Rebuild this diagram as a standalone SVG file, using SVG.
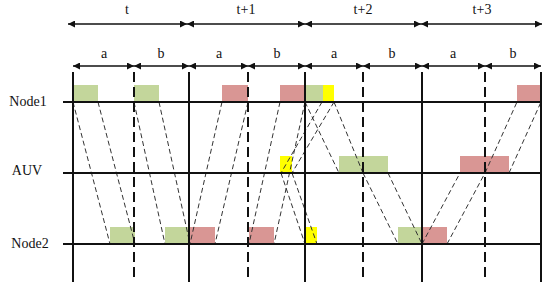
<svg xmlns="http://www.w3.org/2000/svg" width="550" height="290" viewBox="0 0 550 290">
<style>
text{font-family:"Liberation Serif","Times New Roman",serif;font-size:14px;fill:#111;text-anchor:middle}
.arr{stroke:#111;stroke-width:1.6;fill:none;marker-start:url(#ah);marker-end:url(#ah)}
.axis{stroke:#111;stroke-width:2}
.solid{stroke:#111;stroke-width:2}
.dash{stroke:#111;stroke-width:2;stroke-dasharray:10,5}
.g{fill:#c3d69b}
.r{fill:#d99694}
.y{fill:#ffff00}
.c{stroke:#333;stroke-width:1;stroke-dasharray:5,3;fill:none}
</style>
<defs>
<marker id="ah" viewBox="0 0 10 10" refX="10" refY="5" markerUnits="userSpaceOnUse" markerWidth="7" markerHeight="7" orient="auto-start-reverse">
<path d="M0,0 L10,5 L0,10 z" fill="#111"/>
</marker>
</defs>
<g id="timeline">
<line class="arr" x1="68" y1="24" x2="187" y2="24"/>
<line class="arr" x1="187" y1="24" x2="305" y2="24"/>
<line class="arr" x1="305" y1="24" x2="421" y2="24"/>
<line class="arr" x1="421" y1="24" x2="542" y2="24"/>
<text x="127" y="14">t</text>
<text x="246" y="14">t+1</text>
<text x="363" y="14">t+2</text>
<text x="482" y="14">t+3</text>
<line class="arr" x1="73" y1="66" x2="134" y2="66"/>
<line class="arr" x1="134" y1="66" x2="189" y2="66"/>
<line class="arr" x1="189" y1="66" x2="248" y2="66"/>
<line class="arr" x1="248" y1="66" x2="305" y2="66"/>
<line class="arr" x1="305" y1="66" x2="363" y2="66"/>
<line class="arr" x1="363" y1="66" x2="422" y2="66"/>
<line class="arr" x1="422" y1="66" x2="485" y2="66"/>
<line class="arr" x1="485" y1="66" x2="541" y2="66"/>
<text x="104" y="58">a</text>
<text x="161" y="58">b</text>
<text x="219" y="58">a</text>
<text x="277" y="58">b</text>
<text x="334" y="58">a</text>
<text x="392" y="58">b</text>
<text x="453" y="58">a</text>
<text x="513" y="58">b</text>
</g>
<g id="node1">
<text x="28" y="106">Node1</text>
<rect class="g" x="73" y="85" width="25" height="17"/>
<rect class="g" x="134" y="85" width="25" height="17"/>
<rect class="r" x="222" y="85" width="26" height="17"/>
<rect class="r" x="280" y="85" width="25" height="17"/>
<rect class="g" x="305" y="85" width="18" height="17"/>
<rect class="y" x="323" y="85" width="11" height="17"/>
<rect class="r" x="517" y="85" width="24" height="17"/>
</g>
<g id="auv">
<text x="27" y="175">AUV</text>
<rect class="y" x="280" y="156" width="12" height="17"/>
<rect class="g" x="339" y="156" width="49" height="17"/>
<rect class="r" x="460" y="156" width="49" height="17"/>
</g>
<g id="node2">
<text x="30" y="248">Node2</text>
<rect class="g" x="110" y="227" width="25" height="17"/>
<rect class="g" x="165" y="227" width="25" height="17"/>
<rect class="r" x="190" y="227" width="25" height="17"/>
<rect class="r" x="249" y="227" width="25" height="17"/>
<rect class="y" x="305" y="227" width="12" height="17"/>
<rect class="g" x="398" y="227" width="24" height="17"/>
<rect class="r" x="422" y="227" width="25" height="17"/>
</g>
<g id="connectors">
<line class="c" x1="73" y1="102" x2="110" y2="244"/>
<line class="c" x1="98" y1="102" x2="135" y2="244"/>
<line class="c" x1="134" y1="102" x2="165" y2="244"/>
<line class="c" x1="159" y1="102" x2="190" y2="244"/>
<line class="c" x1="222" y1="102" x2="190" y2="244"/>
<line class="c" x1="248" y1="102" x2="215" y2="244"/>
<line class="c" x1="280" y1="102" x2="249" y2="244"/>
<line class="c" x1="305" y1="102" x2="274" y2="244"/>
<line class="c" x1="305" y1="102" x2="339" y2="173"/>
<line class="c" x1="334" y1="102" x2="363" y2="173"/>
<line class="c" x1="322" y1="102" x2="281" y2="173"/>
<line class="c" x1="334" y1="102" x2="292" y2="173"/>
<line class="c" x1="281" y1="173" x2="305" y2="244"/>
<line class="c" x1="292" y1="173" x2="317" y2="244"/>
<line class="c" x1="363" y1="173" x2="398" y2="244"/>
<line class="c" x1="388" y1="173" x2="422" y2="244"/>
<line class="c" x1="422" y1="244" x2="460" y2="173"/>
<line class="c" x1="447" y1="244" x2="485" y2="173"/>
<line class="c" x1="485" y1="173" x2="517" y2="102"/>
<line class="c" x1="509" y1="173" x2="541" y2="102"/>
</g>
<g id="grid">
<line class="axis" x1="63" y1="102" x2="542" y2="102"/>
<line class="axis" x1="63" y1="173" x2="542" y2="173"/>
<line class="axis" x1="63" y1="244" x2="542" y2="244"/>
<line class="solid" x1="73" y1="72" x2="73" y2="282"/>
<line class="solid" x1="189" y1="72" x2="189" y2="282"/>
<line class="solid" x1="305" y1="72" x2="305" y2="282"/>
<line class="solid" x1="422" y1="72" x2="422" y2="282"/>
<line class="solid" x1="541" y1="72" x2="541" y2="282"/>
<line class="dash" x1="134" y1="72" x2="134" y2="282"/>
<line class="dash" x1="248" y1="72" x2="248" y2="282"/>
<line class="dash" x1="363" y1="72" x2="363" y2="282"/>
<line class="dash" x1="485" y1="72" x2="485" y2="282"/>
</g>
</svg>
